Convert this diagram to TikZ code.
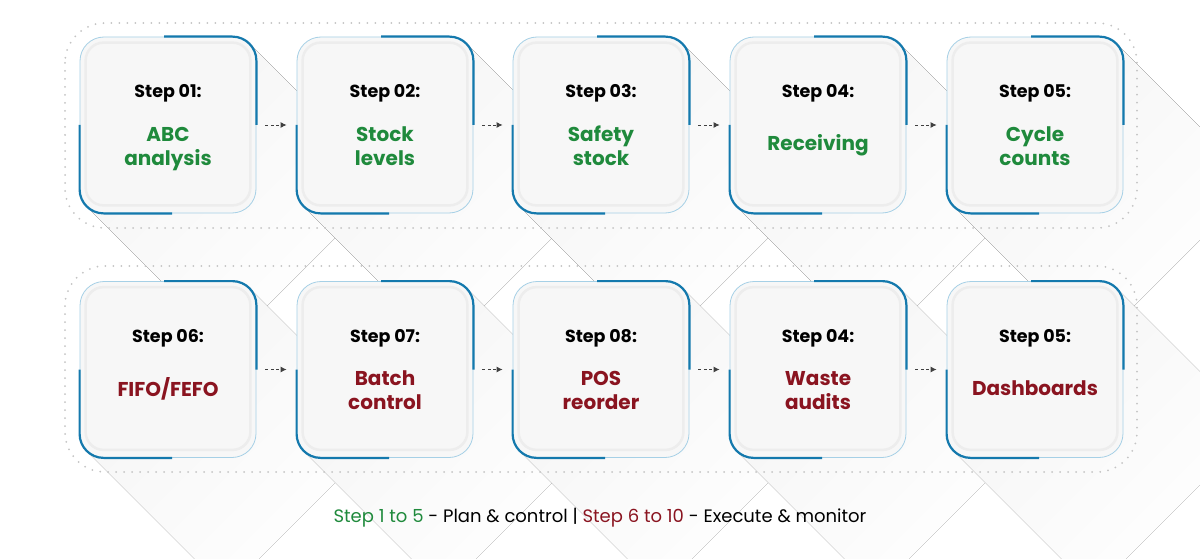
\documentclass[tikz,border=0pt]{standalone}
\usepackage{fontspec}
\setmainfont{Poppins}
\usetikzlibrary{arrows.meta,backgrounds}

\definecolor{planGreen}{HTML}{1F8A3C}
\definecolor{execRed}{HTML}{8A1420}
\definecolor{edgeBlue}{HTML}{1479AD}
\definecolor{edgeLight}{HTML}{A6D0E6}
\definecolor{boxFill}{HTML}{F7F7F7}
\definecolor{bevelGray}{HTML}{EDEDED}
\definecolor{dotGray}{HTML}{C4C4C4}

\begin{document}
\begin{tikzpicture}[x=1pt, y=-1pt,
    stepbox/.style={fill=boxFill, draw=edgeLight, line width=0.8pt, rounded corners=24pt,
      minimum width=176pt, minimum height=176pt, inner sep=0pt},
    edgebar/.style={draw=edgeBlue, line width=2.2pt, rounded corners=24pt},
    bevel/.style={draw=bevelGray, line width=2.5pt, rounded corners=18pt},
    steptitle/.style={anchor=base, font=\bfseries\fontsize{17.5}{20}\selectfont},
    planlabel/.style={align=center, text=planGreen, font=\bfseries\fontsize{20}{24}\selectfont},
    execlabel/.style={planlabel, text=execRed},
    flow/.style={draw=black!75, line width=0.9pt, dash pattern=on 3pt off 2.5pt,
      -{Latex[length=6pt,width=6pt]}},
    dotframe/.style={draw=dotGray, line width=2pt, line cap=round, dash pattern=on 0pt off 8pt,
      rounded corners=40pt},
    boxshadow/.style={top color=black!4, bottom color=white, shading angle=45, draw=none}]
  \useasboundingbox (0,0) rectangle (1200,559);

  % Row 1: plan and control
  \node[stepbox] (s1) at (168,125) {};
  \node[stepbox] (s2) at (385,125) {};
  \node[stepbox] (s3) at (601,125) {};
  \node[stepbox] (s4) at (818,125) {};
  \node[stepbox] (s5) at (1035,125) {};

  % Row 2: execute and monitor
  \node[stepbox] (s6) at (168,369.5) {};
  \node[stepbox] (s7) at (385,369.5) {};
  \node[stepbox] (s8) at (601,369.5) {};
  \node[stepbox] (s9) at (818,369.5) {};
  \node[stepbox] (s10) at (1035,369.5) {};

  % Blue edge bars and inner bevel
  \foreach \s in {s1,s2,s3,s4,s5,s6,s7,s8,s9,s10} {
    \draw[bevel] ([shift={(6pt,-6pt)}]\s.north west) rectangle ([shift={(-6pt,8pt)}]\s.south east);
    \draw[edgebar] (\s.west) -- (\s.south west) -- ([xshift=4pt]\s.south);
    \draw[edgebar] ([xshift=-4pt]\s.north) -- (\s.north east) -- (\s.east);
  }

  % Step titles
  \node[steptitle] (t1) at ([yshift=27pt]s1.center) {Step 01:};
  \node[steptitle] (t2) at ([yshift=27pt]s2.center) {Step 02:};
  \node[steptitle] (t3) at ([yshift=27pt]s3.center) {Step 03:};
  \node[steptitle] (t4) at ([yshift=27pt]s4.center) {Step 04:};
  \node[steptitle] (t5) at ([yshift=27pt]s5.center) {Step 05:};
  \node[steptitle] (t6) at ([yshift=27pt]s6.center) {Step 06:};
  \node[steptitle] (t7) at ([yshift=27pt]s7.center) {Step 07:};
  \node[steptitle] (t8) at ([yshift=27pt]s8.center) {Step 08:};
  \node[steptitle] (t9) at ([yshift=27pt]s9.center) {Step 04:};
  \node[steptitle] (t10) at ([yshift=27pt]s10.center) {Step 05:};

  % Step labels
  \node[planlabel] (l1) at ([yshift=-24pt]s1.center) {ABC\\analysis};
  \node[planlabel] (l2) at ([yshift=-21pt]s2.center) {Stock\\levels};
  \node[planlabel] (l3) at ([yshift=-21pt]s3.center) {Safety\\stock};
  \node[planlabel] (l4) at ([yshift=-20pt]s4.center) {Receiving};
  \node[planlabel] (l5) at ([yshift=-21pt]s5.center) {Cycle\\counts};
  \node[execlabel] (l6) at ([yshift=-19pt]s6.center) {FIFO/FEFO};
  \node[execlabel] (l7) at ([yshift=-21pt]s7.center) {Batch\\control};
  \node[execlabel] (l8) at ([yshift=-21pt]s8.center) {POS\\reorder};
  \node[execlabel] (l9) at ([yshift=-21pt]s9.center) {Waste\\audits};
  \node[execlabel] (l10) at ([yshift=-19pt]s10.center) {Dashboards};

  % Flow arrows
  \draw[flow] ([xshift=9pt]s1.east) -- ([xshift=-10pt]s2.west);
  \draw[flow] ([xshift=9pt]s2.east) -- ([xshift=-10pt]s3.west);
  \draw[flow] ([xshift=9pt]s3.east) -- ([xshift=-10pt]s4.west);
  \draw[flow] ([xshift=9pt]s4.east) -- ([xshift=-10pt]s5.west);
  \draw[flow] ([xshift=9pt]s6.east) -- ([xshift=-10pt]s7.west);
  \draw[flow] ([xshift=9pt]s7.east) -- ([xshift=-10pt]s8.west);
  \draw[flow] ([xshift=9pt]s8.east) -- ([xshift=-10pt]s9.west);
  \draw[flow] ([xshift=9pt]s9.east) -- ([xshift=-10pt]s10.west);

  % Legend
  \node[font=\fontsize{18}{22}\selectfont] (legend) at (600,518)
    {\textcolor{planGreen}{Step 1 to 5} - Plan \& control | \textcolor{execRed}{Step 6 to 10} - Execute \& monitor};

  % Shadows and dotted frames behind the boxes
  \begin{scope}[on background layer]
    \fill[white] (0,0) rectangle (1200,559);
    \foreach \s in {s1,s2,s3,s4,s5,s6,s7,s8,s9,s10} {
      \fill[boxshadow] ([shift={(-7pt,-7pt)}]\s.north east) -- ++(140,140)
        -- ([shift={(147pt,-133pt)}]\s.south west) -- ([shift={(7pt,7pt)}]\s.south west) -- cycle;
    }
    \draw[dotframe] (65,23) rectangle (1137,228);
    \draw[dotframe] (65,266) rectangle (1137,472);
  \end{scope}
\end{tikzpicture}
\end{document}
